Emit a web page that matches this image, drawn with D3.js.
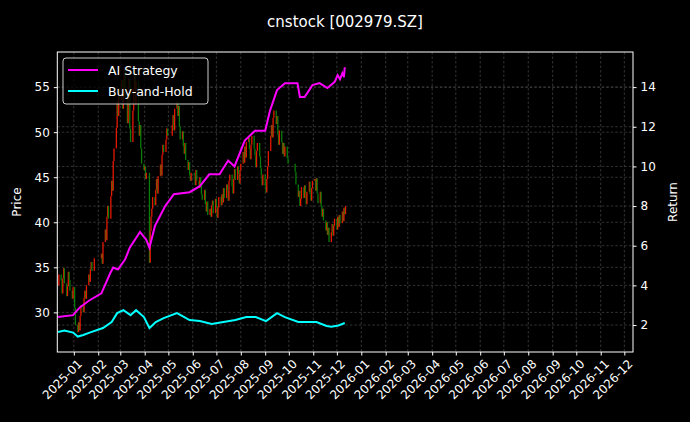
<!DOCTYPE html>
<html>
<head>
<meta charset="utf-8">
<script src="https://cdn.jsdelivr.net/npm/d3@7"></script>
<style>
  body { margin: 0; background: #000; }
  svg text { font-family: "DejaVu Sans", sans-serif; fill: #fff; }
</style>
</head>
<body>
<svg id="chart" width="690" height="422"></svg>
<script>
// closing prices per month (trading days)
var closeDec24 = [33.0,34.2,33.5,32.1,33.8,34.9,33.2,31.8,32.9,34.5,33.6,32.4,31.5,32.8];
var closeJan = [30.5,28.6,27.8,28.9,28.0,29.6,30.8,30.0,31.6,32.4,31.5,33.0,34.2,33.4,34.8,35.6,34.6,36.0];
var closeFeb = [36.5,35.4,37.8,39.2,38.0,40.6,41.8,40.4,42.9,44.6,43.5,46.8,48.2,50.5,53.4,51.8,54.9,53.6];
var closeMar = [55.8,52.6,54.9,57.2,53.8,51.0,53.6,55.9,50.4,48.9,52.4,54.8,56.5,53.1,55.6,51.2,49.6,50.8,48.2,46.5,45.8];
var closeApr = [46.2,44.8,45.5,35.5,39.0,40.6,41.5,42.8,41.9,43.6,44.8,43.2,45.1,46.4,45.2,47.5,48.6,47.8,49.2,50.4,49.6];
var closeMay = [50.8,51.9,50.2,52.6,53.4,51.8,52.9,50.6,49.2,50.1,48.4,47.6,48.8,46.9,45.8,46.7,45.2,44.6,45.5];
var closeJun = [45.2,44.1,45.8,44.6,43.8,45.0,44.2,43.1,42.5,43.6,42.0,41.2,42.3,40.8,41.5,40.6,41.9,42.4,41.0,42.6];
var closeJul = [41.8,40.5,41.6,42.8,41.9,43.1,42.2,43.8,42.7,44.2,43.5,42.4,44.6,45.3,44.0,43.2,44.8,45.9,44.7,46.2,45.4,44.3,45.8];
var closeAug = [46.5,47.8,46.6,48.4,47.2,48.9,49.4,48.1,47.0,48.6,49.6,48.2,47.4,46.1,47.9,48.8,47.3,46.0,45.2,44.1,45.3];
var closeSep = [44.0,43.3,44.8,46.2,47.9,49.6,50.8,49.4,51.6,52.4,50.9,51.8,49.7,48.6,50.2,48.9,47.6,48.8,47.3,48.4,47.1,46.5];
var closeOct = [45.6,44.2,42.8,43.5,41.8,42.6,43.9,42.7,44.1,43.2,42.0,43.4,44.5,43.1,42.4,43.8,44.6];
var closeNov = [44.8,43.5,44.9,43.2,42.1,43.4,41.8,40.6,41.5,40.2,39.1,40.0,38.6,39.4,37.8,38.9,39.8,38.5,39.6,40.4];
var closeDec = [39.2,40.6,39.5,40.8,39.9,41.2,40.1,41.6,40.9,41.8];
var holidays = ["2025-01-01","2025-01-28","2025-01-29","2025-01-30","2025-01-31","2025-02-03","2025-02-04",
  "2025-04-04","2025-05-01","2025-05-02","2025-05-05","2025-06-02",
  "2025-10-01","2025-10-02","2025-10-03","2025-10-06","2025-10-07","2025-10-08"];

var aiDates = ["2024-12-12","2024-12-31","2025-01-02","2025-01-09","2025-01-21","2025-02-05","2025-02-16","2025-02-20","2025-02-26",
  "2025-03-07","2025-03-13","2025-03-26","2025-04-03","2025-04-07","2025-04-14","2025-04-27","2025-05-08","2025-05-28",
  "2025-06-10","2025-06-22","2025-07-05","2025-07-16","2025-07-24","2025-08-06","2025-08-19","2025-09-01","2025-09-07",
  "2025-09-16","2025-09-26","2025-10-12","2025-10-15","2025-10-21","2025-10-31","2025-11-09","2025-11-19","2025-11-28",
  "2025-12-02","2025-12-05","2025-12-08","2025-12-10","2025-12-11"];
var aiValues = [2.4,2.5,2.6,2.9,3.25,3.6,4.6,4.9,4.8,5.3,5.9,6.7,6.3,5.9,7.0,8.0,8.6,8.7,
  9.0,9.6,9.6,10.3,10.0,11.3,11.8,11.8,12.8,13.85,14.2,14.2,13.5,13.5,14.1,14.2,13.95,14.25,
  14.6,14.4,14.7,14.5,15.0];
var bhDates = ["2024-12-12","2024-12-20","2024-12-31","2025-01-06","2025-01-13","2025-01-21","2025-02-07","2025-02-18","2025-02-25",
  "2025-03-05","2025-03-14","2025-03-21","2025-03-31","2025-04-07","2025-04-15","2025-04-25","2025-05-12","2025-05-28",
  "2025-06-10","2025-06-25","2025-07-10","2025-07-25","2025-08-08","2025-08-20","2025-09-02","2025-09-16","2025-09-26",
  "2025-10-13","2025-10-24","2025-11-05","2025-11-18","2025-11-24","2025-12-03","2025-12-11"];
var bhValues = [1.65,1.72,1.62,1.42,1.5,1.62,1.85,2.15,2.6,2.75,2.5,2.75,2.4,1.85,2.15,2.35,2.6,2.25,
  2.2,2.05,2.15,2.25,2.4,2.4,2.2,2.6,2.4,2.15,2.15,2.15,1.95,1.92,1.98,2.1];

var leftTicks = [30,35,40,45,50,55];
var rightTicks = [2,4,6,8,10,12,14];

var parse = d3.timeParse("%Y-%m-%d");
var fmt = d3.timeFormat("%Y-%m-%d");
var closes = [].concat(closeDec24, closeJan, closeFeb, closeMar, closeApr, closeMay, closeJun,
  closeJul, closeAug, closeSep, closeOct, closeNov, closeDec);
var days = d3.timeDays(parse("2024-12-12"), parse("2025-12-13"))
  .filter(d => d.getDay() != 0 && d.getDay() != 6 && holidays.indexOf(fmt(d)) < 0);
var candles = closes.map((c, i) => ({date: days[i], open: i ? closes[i-1] : c, close: c}))
  .filter(d => d.date);

var svg = d3.select("#chart");
svg.append("rect").attr("width", 690).attr("height", 422).attr("fill", "#000");
var L = 57.3, R = 633, T = 52, B = 352;

var x = d3.scaleTime().domain([parse("2024-12-11"), parse("2026-12-12")]).range([L, R]);
var yL = d3.scaleLinear().domain([25.6, 58.9]).range([B, T]);
var yR = d3.scaleLinear().domain([0.64, 15.77]).range([B, T]);
var months = d3.timeMonths(parse("2025-01-01"), parse("2026-12-02"));

// grid
var grid = svg.append("g").attr("stroke", "#555").attr("stroke-width", 0.6).attr("stroke-dasharray", "2.5,2");
grid.selectAll(".gx").data(months).enter().append("line")
  .attr("x1", d => x(d)).attr("x2", d => x(d)).attr("y1", T).attr("y2", B);
grid.selectAll(".gl").data(leftTicks).enter().append("line")
  .attr("x1", L).attr("x2", R).attr("y1", d => yL(d)).attr("y2", d => yL(d));
grid.selectAll(".gr").data(rightTicks).enter().append("line")
  .attr("x1", L).attr("x2", R).attr("y1", d => yR(d)).attr("y2", d => yR(d));

// candles
svg.append("g").selectAll("line").data(candles).enter().append("line")
  .attr("x1", d => x(d.date)).attr("x2", d => x(d.date))
  .attr("y1", d => yL(d.open)).attr("y2", d => yL(d.close) + (d.close == d.open ? 0.5 : 0))
  .attr("stroke", d => d.close >= d.open ? "#ff1a00" : "#0a8a0a")
  .attr("stroke-width", 1.3).attr("opacity", 0.9);

// lines
var line = d3.line().x(d => x(parse(d[0]))).y(d => yR(d[1]));
svg.append("path").datum(d3.zip(aiDates, aiValues)).attr("d", line)
  .attr("fill", "none").attr("stroke", "#ff00ff").attr("stroke-width", 2);
svg.append("path").datum(d3.zip(bhDates, bhValues)).attr("d", line)
  .attr("fill", "none").attr("stroke", "#00ffff").attr("stroke-width", 2);

// axes
function style(g) {
  g.selectAll(".domain").remove();
  g.selectAll("line").attr("stroke", "#fff");
  g.selectAll("text").attr("font-size", 12).attr("fill", "#fff").attr("font-family", "DejaVu Sans");
}
svg.append("g").attr("transform", `translate(${L},0)`)
  .call(d3.axisLeft(yL).tickValues(leftTicks).tickSize(3.5).tickPadding(4)).call(style);
svg.append("g").attr("transform", `translate(${R},0)`)
  .call(d3.axisRight(yR).tickValues(rightTicks).tickSize(3.5).tickPadding(4)).call(style);
var xa = svg.append("g").attr("transform", `translate(0,${B})`)
  .call(d3.axisBottom(x).tickValues(months).tickFormat(d3.timeFormat("%Y-%m")).tickSize(3.5)).call(style);
xa.selectAll("text").attr("text-anchor", "end").attr("dy", 0)
  .attr("transform", "translate(4,8) rotate(-45)");
svg.append("rect").attr("x", L).attr("y", T).attr("width", R - L).attr("height", B - T)
  .attr("fill", "none").attr("stroke", "#fff").attr("stroke-width", 1);

// labels
svg.append("text").attr("x", 345).attr("y", 27).attr("text-anchor", "middle").attr("font-size", 15)
  .text("cnstock [002979.SZ]");
svg.append("text").attr("transform", "translate(21,202) rotate(-90)").attr("text-anchor", "middle")
  .attr("font-size", 12).text("Price");
svg.append("text").attr("transform", "translate(677,202) rotate(-90)").attr("text-anchor", "middle")
  .attr("font-size", 12).text("Return");

// legend
var lg = svg.append("g");
lg.append("rect").attr("x", 63).attr("y", 58).attr("width", 145).attr("height", 46).attr("rx", 3)
  .attr("fill", "#000").attr("fill-opacity", 0.8).attr("stroke", "#ccc").attr("stroke-width", 1);
var items = [["AI Strategy", "#ff00ff"], ["Buy-and-Hold", "#00ffff"]];
items.forEach((it, i) => {
  var yy = 70 + i * 21;
  lg.append("line").attr("x1", 68).attr("x2", 98).attr("y1", yy).attr("y2", yy)
    .attr("stroke", it[1]).attr("stroke-width", 2);
  lg.append("text").attr("x", 108).attr("y", yy + 4.5).attr("font-size", 12.5).text(it[0]);
});
</script>
</body>
</html>
